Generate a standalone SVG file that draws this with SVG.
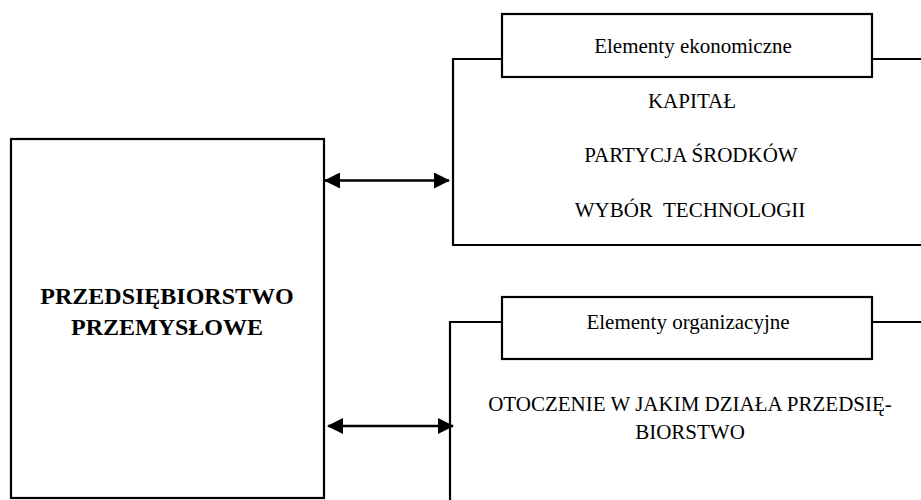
<svg xmlns="http://www.w3.org/2000/svg" width="921" height="500" viewBox="0 0 921 500">
<style>
.box{fill:#fff;stroke:#000;stroke-width:2.2}
.ln{fill:none;stroke:#000;stroke-width:2.2}
.t{font-family:"Liberation Serif","Times New Roman",serif;font-size:21px;fill:#000;text-anchor:middle}
.b{font-family:"Liberation Serif","Times New Roman",serif;font-size:24px;font-weight:bold;fill:#000;text-anchor:middle}
.arr{stroke:#000;stroke-width:2.6;fill:none;marker-start:url(#ah);marker-end:url(#ah)}
</style>
<defs>
<marker id="ah" viewBox="0 0 16 16" refX="15" refY="8" markerWidth="16" markerHeight="16" markerUnits="userSpaceOnUse" orient="auto-start-reverse">
<path d="M0,0 L16,8 L0,16 Z" fill="#000"/>
</marker>
</defs>
<g id="przedsiebiorstwo">
<rect class="box" x="11" y="139" width="313" height="359"/>
<text class="b" x="167" y="304">PRZEDSIĘBIORSTWO</text>
<text class="b" x="167" y="335">PRZEMYSŁOWE</text>
</g>
<g id="ekonomiczne">
<path class="ln" d="M921,59 L453,59 L453,245 L921,245"/>
<rect class="box" x="502" y="14" width="370" height="63"/>
<text class="t" x="693" y="53">Elementy ekonomiczne</text>
<text class="t" x="692" y="108">KAPITAŁ</text>
<text class="t" x="691" y="162">PARTYCJA ŚRODKÓW</text>
<text class="t" x="690" y="217" xml:space="preserve">WYBÓR  TECHNOLOGII</text>
</g>
<g id="organizacyjne">
<path class="ln" d="M921,322 L450,322 L450,500"/>
<rect class="box" x="502" y="297" width="370" height="62"/>
<text class="t" x="688" y="329">Elementy organizacyjne</text>
<text class="t" x="690" y="411">OTOCZENIE W JAKIM DZIAŁA PRZEDSIĘ-</text>
<text class="t" x="690" y="439">BIORSTWO</text>
</g>
<g id="connectors">
<line class="arr" x1="325" y1="180.5" x2="449" y2="180.5"/>
<line class="arr" x1="328" y1="426" x2="453" y2="426"/>
</g>
</svg>
